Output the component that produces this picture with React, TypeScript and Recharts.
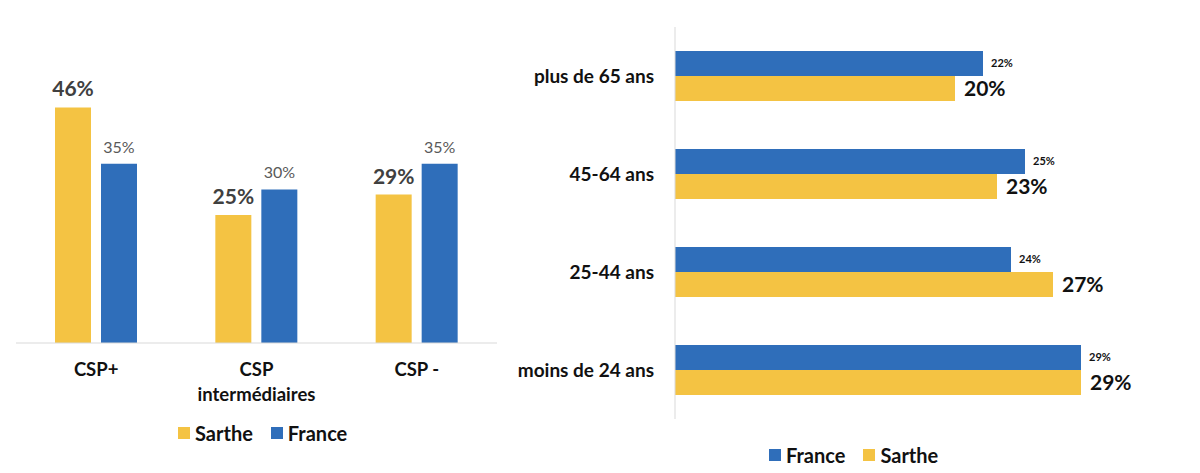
import { BarChart, Bar, XAxis, YAxis, LabelList } from "recharts";

const cspCategories = ["CSP+", "CSP\nintermédiaires", "CSP -"];
const cspSarthe = [46, 25, 29];
const cspFrance = [35, 30, 35];

const ageCategories = ["plus de 65 ans", "45-64 ans", "25-44 ans", "moins de 24 ans"];
const ageFrance = [22, 25, 24, 29];
const ageSarthe = [20, 23, 27, 29];

const YELLOW = "#F4C343";
const BLUE = "#2F6EBA";
const FONT = "Lato, 'Open Sans', sans-serif";

const cspData = cspCategories.map((c, i) => ({ name: c, sarthe: cspSarthe[i], france: cspFrance[i] }));
const ageData = ageCategories.map((c, i) => ({ name: c, france: ageFrance[i], sarthe: ageSarthe[i] }));

const pct = (v: any) => `${v}%`;

function CspTick(props: any) {
  const { x, y, payload } = props;
  const lines = String(payload.value).split("\n");
  return (
    <text x={x} y={y} textAnchor="middle" fontFamily={FONT} fontWeight={700} fontSize={18.5} fill="#111">
      {lines.map((l, i) => (
        <tspan key={i} x={x} y={y + 25 + i * 25}>
          {l}
        </tspan>
      ))}
    </text>
  );
}

function LegendItem({ color, label }: { color: string; label: string }) {
  return (
    <span style={{ display: "inline-flex", alignItems: "center", gap: 5 }}>
      <span style={{ width: 12, height: 12, background: color, display: "inline-block" }} />
      <span>{label}</span>
    </span>
  );
}

export default function App() {
  return (
    <div style={{ position: "absolute", left: 0, top: 0, width: 1200, height: 473, background: "#fff", fontFamily: FONT }}>
      {/* CSP */}
      <div style={{ position: "absolute", left: 0, top: 0 }}>
        <BarChart width={520} height={473} data={cspData} margin={{ top: 87, right: 23, left: 16, bottom: 70 }} barSize={36} barGap={10}>
          <XAxis dataKey="name" height={60} tickLine={false} axisLine={{ stroke: "#d9d9d9" }} tick={<CspTick />} interval={0} />
          <YAxis hide domain={[0, 50]} />
          <Bar dataKey="sarthe" fill={YELLOW} isAnimationActive={false}>
            <LabelList dataKey="sarthe" position="top" offset={11} formatter={pct} fill="#404040" fontSize={21} fontWeight={700} fontFamily={FONT} />
          </Bar>
          <Bar dataKey="france" fill={BLUE} isAnimationActive={false}>
            <LabelList dataKey="france" position="top" offset={11} formatter={pct} fill="#595959" fontSize={16} fontFamily={FONT} />
          </Bar>
        </BarChart>
      </div>
      <div style={{ position: "absolute", left: 178, top: 421, display: "flex", gap: 18, fontSize: 20, fontWeight: 700, color: "#111" }}>
        <LegendItem color={YELLOW} label="Sarthe" />
        <LegendItem color={BLUE} label="France" />
      </div>

      {/* Age */}
      <div style={{ position: "absolute", left: 500, top: 0 }}>
        <BarChart width={700} height={473} data={ageData} layout="vertical" margin={{ top: 27, right: 35, left: 10, bottom: 54 }} barSize={25} barGap={0}>
          <XAxis type="number" hide domain={[0, 35]} />
          <YAxis
            type="category"
            dataKey="name"
            width={165}
            tickLine={false}
            tickSize={0}
            tickMargin={21}
            axisLine={{ stroke: "#d9d9d9" }}
            tick={{ fontFamily: FONT, fontWeight: 700, fontSize: 19, fill: "#111" }}
          />
          <Bar dataKey="france" fill={BLUE} isAnimationActive={false}>
            <LabelList dataKey="france" position="right" offset={8} formatter={pct} fill="#111" fontSize={11} fontWeight={700} fontFamily={FONT} />
          </Bar>
          <Bar dataKey="sarthe" fill={YELLOW} isAnimationActive={false}>
            <LabelList dataKey="sarthe" position="right" offset={9} formatter={pct} fill="#111" fontSize={21} fontWeight={700} fontFamily={FONT} />
          </Bar>
        </BarChart>
      </div>
      <div style={{ position: "absolute", left: 769, top: 443, display: "flex", gap: 18, fontSize: 20, fontWeight: 700, color: "#111" }}>
        <LegendItem color={BLUE} label="France" />
        <LegendItem color={YELLOW} label="Sarthe" />
      </div>
    </div>
  );
}
